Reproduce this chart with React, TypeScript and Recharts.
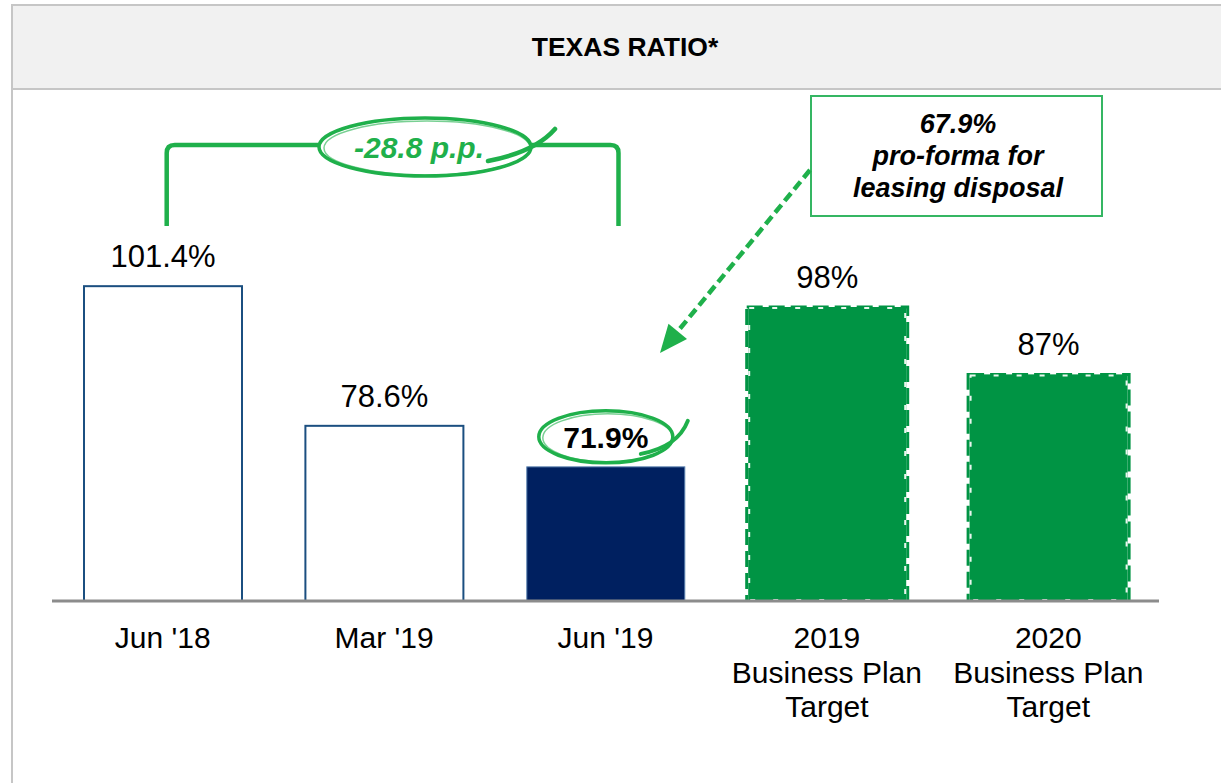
import React from 'react';
import { BarChart, Bar, XAxis, YAxis, LabelList } from 'recharts';

// ---- data ----
const categories = ["Jun '18", "Mar '19", "Jun '19", "2019 Business Plan Target", "2020 Business Plan Target"];
const tickLines = [["Jun '18"], ["Mar '19"], ["Jun '19"], ["2019", "Business Plan", "Target"], ["2020", "Business Plan", "Target"]];
const values = [101.4, 78.6, 71.9, 98, 87];
const valueLabels = ["101.4%", "78.6%", "71.9%", "98%", "87%"];
const barKinds = ["actual", "actual", "current", "target", "target"];
const title = "TEXAS RATIO*";
const changeLabel = "-28.8 p.p.";
const proformaLines = ["67.9%", "pro-forma for", "leasing disposal"];

const data = categories.map((c, i) => ({
  name: c,
  value: values[i],
  label: valueLabels[i],
  kind: barKinds[i],
}));

// ---- layout ----
const W = 1221;
const H = 783;
const MARGIN = { top: 111, right: 62, bottom: 122, left: 52 };
const XAXIS_H = 60;
const FONT = "Arial, 'Liberation Sans', Helvetica, sans-serif";
const GREEN = '#1fb04b';
const plotWidth = W - MARGIN.left - MARGIN.right;
const band = plotWidth / categories.length;
const center = (i: number) => MARGIN.left + band * (i + 0.5);

const BarShape = (props: any) => {
  const { x, y, width, height, index } = props;
  const kind = barKinds[index];
  if (kind === 'actual') {
    return <rect x={x} y={y} width={width} height={height} fill="#ffffff" stroke="#1b4f80" strokeWidth={2} />;
  }
  if (kind === 'current') {
    return <rect x={x} y={y} width={width} height={height} fill="#002060" stroke="#5a82b0" strokeWidth={1} />;
  }
  return (
    <g>
      <rect x={x - 1.5} y={y} width={width + 3} height={height + 5} fill="none" stroke="#009444" strokeWidth={3} strokeDasharray="16 6" />
      <rect x={x} y={y} width={width} height={height} fill="#009444" />
      <rect x={x + 1} y={y + 1} width={width - 2} height={height - 2} fill="none" stroke="#e9f6ee" strokeWidth={2} strokeDasharray="5 18" />
    </g>
  );
};

const ValueLabel = (props: any) => {
  const { x, y, width, index } = props;
  const cx = x + width / 2;
  const cy = y - 30;
  const kind = barKinds[index];
  const text = valueLabels[index];
  if (kind === 'current') {
    return (
      <g>
        <ellipse cx={cx} cy={cy} rx={67} ry={26} fill="none" stroke={GREEN} strokeWidth={3.5} />
        <ellipse cx={cx + 2} cy={cy + 1} rx={65} ry={24} fill="none" stroke={GREEN} strokeWidth={1.5} opacity={0.6} />
        <path d={`M ${cx + 35} ${cy + 17} Q ${cx + 72} ${cy + 10} ${cx + 82} ${cy - 16}`} fill="none" stroke={GREEN} strokeWidth={4} strokeLinecap="round" />
        <text x={cx} y={cy + 11} textAnchor="middle" fontFamily={FONT} fontSize={30} fontWeight="bold" fill="#000">{text}</text>
      </g>
    );
  }
  return (
    <text x={cx} y={cy + 11} textAnchor="middle" fontFamily={FONT} fontSize={31} fill="#000">{text}</text>
  );
};

const Tick = (props: any) => {
  const { x, y, index } = props;
  const lines = tickLines[index] || [];
  return (
    <g>
      {lines.map((l, k) => (
        <text key={k} x={x} y={y + 47 + k * 34.5} textAnchor="middle" fontFamily={FONT} fontSize={30} fill="#000">{l}</text>
      ))}
    </g>
  );
};

export default function App() {
  const bx0 = center(0) + 4;
  const bx1 = center(2) + 13;
  const by = 145;
  const byb = 226;
  // arrow geometry
  const ax0 = 810, ay0 = 170, tipX = 660, tipY = 353;
  const dx = tipX - ax0, dy = tipY - ay0;
  const len = Math.sqrt(dx * dx + dy * dy);
  const ux = dx / len, uy = dy / len;
  const baseX = tipX - 28 * ux, baseY = tipY - 28 * uy;
  const px = -uy, py = ux;
  const arrowHead = `${tipX},${tipY} ${baseX + 12 * px},${baseY + 12 * py} ${baseX - 12 * px},${baseY - 12 * py}`;

  return (
    <div style={{ position: 'absolute', left: 0, top: 0, width: W, height: H, background: '#ffffff', overflow: 'hidden' }}>
      <svg width={W} height={H} style={{ position: 'absolute', left: 0, top: 0 }}>
        <rect x={12} y={5} width={W} height={83} fill="#f1f1f1" />
        <line x1={12} y1={5} x2={W} y2={5} stroke="#c6c6c6" strokeWidth={2} />
        <line x1={12} y1={89} x2={W} y2={89} stroke="#c6c6c6" strokeWidth={2} />
        <line x1={12} y1={4} x2={12} y2={H} stroke="#c6c6c6" strokeWidth={2} />
        <text x={625} y={56} textAnchor="middle" fontFamily={FONT} fontSize={26.5} fontWeight="bold" fill="#000">{title}</text>
      </svg>
      <div style={{ position: 'absolute', left: 0, top: 0 }}>
        <BarChart width={W} height={H} data={data} margin={MARGIN}>
          <YAxis hide domain={[50, 130]} allowDataOverflow type="number" />
          <XAxis
            dataKey="name"
            height={XAXIS_H}
            interval={0}
            tickLine={false}
            tickSize={0}
            tickMargin={0}
            axisLine={{ stroke: '#8c8c8c', strokeWidth: 3 }}
            tick={<Tick />}
          />
          <Bar dataKey="value" barSize={158} shape={<BarShape />} isAnimationActive={false}>
            <LabelList dataKey="label" content={<ValueLabel />} />
          </Bar>
        </BarChart>
      </div>
      <svg width={W} height={H} style={{ position: 'absolute', left: 0, top: 0, pointerEvents: 'none' }}>
        {/* bracket */}
        <path
          d={`M ${bx0} ${byb} L ${bx0} ${by + 8} Q ${bx0} ${by} ${bx0 + 8} ${by} L ${bx1 - 8} ${by} Q ${bx1} ${by} ${bx1} ${by + 8} L ${bx1} ${byb}`}
          fill="none"
          stroke={GREEN}
          strokeWidth={4.5}
        />
        <ellipse cx={425} cy={147} rx={106} ry={29} fill="#ffffff" stroke={GREEN} strokeWidth={3.5} />
        <ellipse cx={427} cy={148} rx={103} ry={27} fill="none" stroke={GREEN} strokeWidth={1.5} opacity={0.6} />
        <path d="M 488 161 Q 535 152 555 129" fill="none" stroke={GREEN} strokeWidth={4.5} strokeLinecap="round" />
        <text x={419} y={158} textAnchor="middle" fontFamily={FONT} fontSize={30} fontWeight="bold" fontStyle="italic" fill={GREEN}>{changeLabel}</text>

        {/* pro-forma box */}
        <rect x={811} y={96} width={291} height={120} fill="#ffffff" stroke="#35b663" strokeWidth={2} />
        {proformaLines.map((l, k) => (
          <text key={k} x={958} y={133 + k * 32} textAnchor="middle" fontFamily={FONT} fontSize={27} fontWeight="bold" fontStyle="italic" fill="#000">{l}</text>
        ))}

        {/* dashed arrow */}
        <line x1={ax0} y1={ay0} x2={baseX + 4 * ux} y2={baseY + 4 * uy} stroke={GREEN} strokeWidth={4.5} strokeDasharray="10 5" />
        <polygon points={arrowHead} fill={GREEN} />
      </svg>
    </div>
  );
}
